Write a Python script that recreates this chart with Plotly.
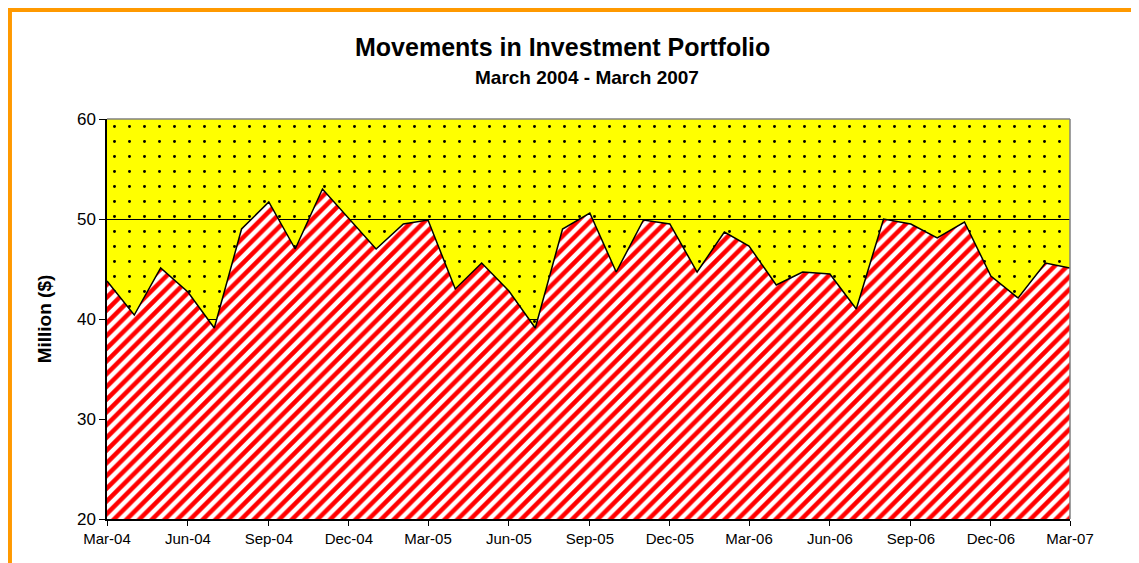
import plotly.graph_objects as go
import pandas as pd

months = pd.date_range("2004-03-01", periods=37, freq="MS")
portfolio = [43.8, 40.4, 45.1, 42.7, 39.1, 49.0, 51.7, 47.0, 53.0, 50.0,
             47.0, 49.5, 49.9, 43.0, 45.6, 42.8, 39.1, 49.0, 50.6, 44.7,
             49.9, 49.5, 44.7, 48.7, 47.3, 43.4, 44.7, 44.5, 41.0, 50.0,
             49.5, 48.1, 49.7, 44.3, 42.1, 45.6, 45.1]
y_max = 60
y_min = 20
ceiling = [y_max] * len(months)

fig = go.Figure()

# lower bound for dotted region
fig.add_trace(go.Scatter(x=months, y=portfolio, mode="lines",
                         line=dict(width=0), hoverinfo="skip", showlegend=False))
# dotted region up to 60 (transparent background, yellow comes from plot_bgcolor)
fig.add_trace(go.Scatter(x=months, y=ceiling, mode="lines", fill="tonexty",
                         line=dict(width=0), fillcolor="rgba(0,0,0,0)",
                         fillpattern=dict(shape=".", fgcolor="#000000", fgopacity=1,
                                          bgcolor="rgba(0,0,0,0)", size=15, solidity=0.03),
                         hoverinfo="skip", showlegend=False))
# red hatched area
fig.add_trace(go.Scatter(x=months, y=portfolio, mode="lines", fill="tozeroy",
                         line=dict(color="#000000", width=1.5),
                         fillcolor="#FFFFFF",
                         fillpattern=dict(shape="/", fgcolor="#FF0000", fgopacity=1,
                                          bgcolor="#FFFFFF", size=9, solidity=0.5),
                         showlegend=False, name="Portfolio"))

fig.update_layout(
    width=1131, height=555,
    paper_bgcolor="white", plot_bgcolor="#FFFF00",
    margin=dict(l=99, r=69, t=111, b=44),
    font=dict(family="Liberation Sans, Arial, sans-serif", color="#000000", size=15),
    showlegend=False,
    annotations=[
        dict(text="<b>Movements in Investment Portfolio</b>", xref="paper", yref="paper",
             x=0.4735, y=1.0, yanchor="middle", yshift=72, showarrow=False,
             font=dict(size=25)),
        dict(text="<b>March 2004 - March 2007</b>", xref="paper", yref="paper",
             x=0.4985, y=1.0, yanchor="middle", yshift=42, showarrow=False,
             font=dict(size=19)),
    ],
    shapes=[
        dict(type="rect", xref="paper", yref="paper", x0=-0.1018, x1=1.2, y0=-0.3, y1=1.275,
             line=dict(color="#FF9900", width=6), fillcolor="rgba(0,0,0,0)", layer="below"),
        dict(type="line", xref="paper", yref="paper", x0=0, x1=1, y0=1, y1=1,
             line=dict(color="#808080", width=1.5), layer="above"),
        dict(type="line", xref="paper", yref="paper", x0=1, x1=1, y0=0, y1=1,
             line=dict(color="#808080", width=1.5), layer="above"),
    ],
)

fig.update_xaxes(
    range=[months[0], months[-1]],
    tickformat="%b-%y", tick0="2004-03-01", dtick="M3",
    ticks="outside", ticklen=5, tickcolor="#000000",
    showline=True, linecolor="#000000", linewidth=1.5,
    showgrid=False, zeroline=False, tickfont=dict(size=15),
)
fig.update_yaxes(
    range=[y_min, y_max], dtick=10,
    ticks="outside", ticklen=6, tickcolor="#000000",
    showline=True, linecolor="#000000", linewidth=1.5,
    showgrid=True, gridcolor="#000000", gridwidth=1,
    zeroline=False, tickfont=dict(size=17),
    title=dict(text="<b>Million ($)</b>", font=dict(size=19), standoff=20),
)

fig.write_html("out.html")
